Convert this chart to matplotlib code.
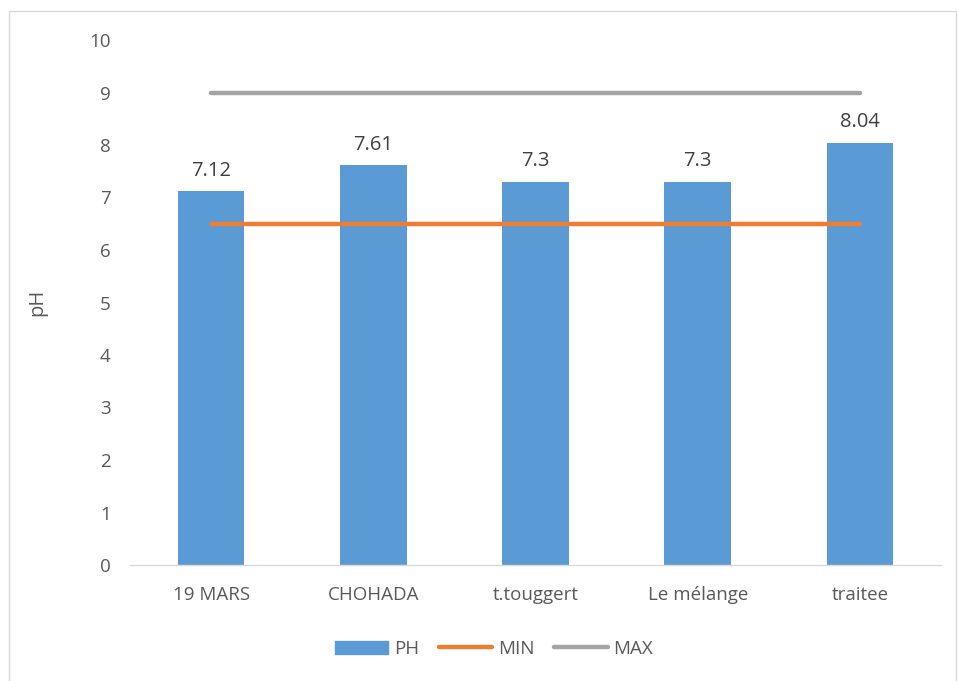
import matplotlib.pyplot as plt
from matplotlib.patches import Rectangle
from matplotlib.lines import Line2D

categories = ["19 MARS", "CHOHADA", "t.touggert", "Le mélange", "traitee"]
ph_values = [7.12, 7.61, 7.3, 7.3, 8.04]
ph_labels = ["7.12", "7.61", "7.3", "7.3", "8.04"]
min_values = [6.5, 6.5, 6.5, 6.5, 6.5]
max_values = [9, 9, 9, 9, 9]

plt.rcParams['font.family'] = ['Open Sans', 'DejaVu Sans']
text_color = '#595959'
W, H = 958, 681

fig = plt.figure(figsize=(W / 100, H / 100), dpi=100)
ax = fig.add_axes([130 / W, (H - 565) / H, (941 - 130) / W, (565 - 40) / H])

# chart border
fig.add_artist(Rectangle((9 / W, -0.01), (956 - 9) / W, (H - 11) / H + 0.01,
                         transform=fig.transFigure, fill=False,
                         edgecolor='#d9d9d9', linewidth=1))

x = list(range(len(categories)))
ax.bar(x, ph_values, width=0.41, color='#5b9bd5', zorder=2)
ax.plot(x, min_values, color='#ed7d31', linewidth=3.2, solid_capstyle='round', zorder=3)
ax.plot(x, max_values, color='#a5a5a5', linewidth=3.2, solid_capstyle='round', zorder=3)

for xi, v, lab in zip(x, ph_values, ph_labels):
    ax.text(xi, v + 0.2, lab, ha='center', va='bottom', fontsize=14.5, color='#404040')

ax.set_xlim(-0.5, len(categories) - 0.5)
ax.set_ylim(0, 10)
ax.set_yticks(range(0, 11))
ax.set_xticks(x)
ax.set_xticklabels(categories)
ax.tick_params(axis='both', length=0, labelsize=13.5, labelcolor=text_color)
ax.tick_params(axis='y', pad=14)
ax.tick_params(axis='x', pad=15)
for side in ['top', 'right', 'left']:
    ax.spines[side].set_visible(False)
ax.spines['bottom'].set_color('#d9d9d9')
ax.spines['bottom'].set_linewidth(1)
ax.set_ylabel('pH', fontsize=14.5, color=text_color, labelpad=30)

handles = [Rectangle((0, 0), 1, 1, color='#5b9bd5'),
           Line2D([0], [0], color='#ed7d31', linewidth=3.2, solid_capstyle='round'),
           Line2D([0], [0], color='#a5a5a5', linewidth=3.2, solid_capstyle='round')]
fig.legend(handles, ['PH', 'MIN', 'MAX'], loc='center', bbox_to_anchor=(494 / W, (H - 649) / H),
           ncol=3, frameon=False, fontsize=13.5, handlelength=2.85, handletextpad=0.3,
           columnspacing=1.05, labelcolor=text_color)

fig.savefig('out.png', dpi=100)
